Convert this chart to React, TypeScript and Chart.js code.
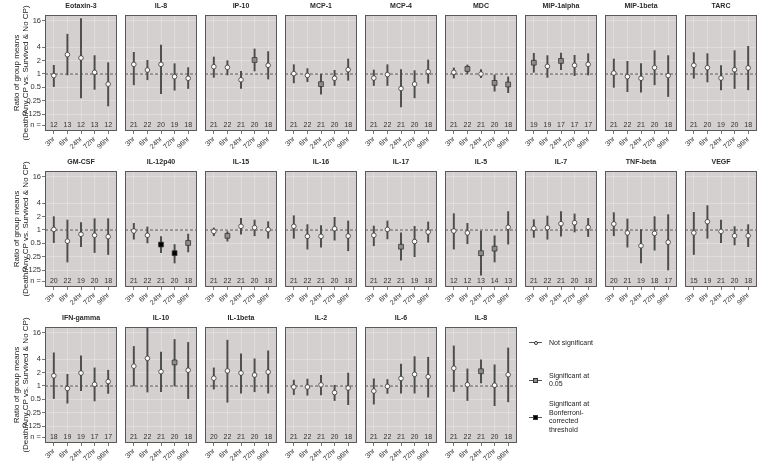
import React, { useEffect, useRef } from "react";
import { Chart, registerables } from "chart.js";
Chart.register(...registerables);

const FONT = "'Liberation Sans', Arial, sans-serif";
Chart.defaults.font.family = FONT;

const TIMES = ["3hr", "6hr", "24hr", "72hr", "96hr"];
const Y_TICKS = [16, 4, 2, 1, 0.5, 0.25, 0.125];
const N_ROW = 0.0707;
const Y_MIN = 0.0518;
const Y_MAX = 21.4;
const Y_TITLE = ["Ratio of group means", "(Death/Any CP vs. Survived & No CP)"];

const PANELS = [
  "Eotaxin-3", "IL-8", "IP-10", "MCP-1", "MCP-4", "MDC", "MIP-1alpha", "MIP-1beta", "TARC",
  "GM-CSF", "IL-12p40", "IL-15", "IL-16", "IL-17", "IL-5", "IL-7", "TNF-beta", "VEGF",
  "IFN-gamma", "IL-10", "IL-1beta", "IL-2", "IL-6", "IL-8",
];

const ESTIMATE = [
  [0.92, 2.73, 2.3, 1.09, 0.59],
  [1.65, 1.23, 1.65, 0.87, 0.8],
  [1.46, 1.41, 0.74, 2.07, 1.57],
  [1.02, 0.93, 0.59, 0.8, 1.25],
  [0.81, 0.97, 0.47, 0.59, 1.13],
  [1.09, 1.3, 1.0, 0.63, 0.58],
  [1.8, 1.49, 1.97, 1.57, 1.65],
  [1.05, 0.87, 0.8, 1.39, 0.92],
  [1.57, 1.39, 0.81, 1.25, 1.37],
  [1.03, 0.56, 0.8, 0.76, 0.71],
  [0.95, 0.76, 0.47, 0.3, 0.51],
  [0.93, 0.74, 1.21, 1.13, 1.02],
  [1.21, 0.72, 0.72, 1.07, 0.73],
  [0.76, 1.03, 0.42, 0.55, 0.9],
  [0.95, 0.86, 0.3, 0.38, 1.15],
  [1.09, 1.13, 1.39, 1.46, 1.15],
  [1.37, 0.86, 0.44, 0.84, 0.53],
  [0.86, 1.54, 0.93, 0.74, 0.74],
  [1.7, 0.88, 1.96, 1.09, 1.26],
  [2.8, 4.2, 2.1, 3.4, 2.27],
  [1.5, 2.19, 1.96, 1.77, 2.07],
  [0.95, 0.95, 1.06, 0.71, 0.9],
  [0.77, 0.98, 1.48, 1.83, 1.62],
  [2.52, 1.07, 2.15, 1.04, 1.8],
];

const LOWER = [
  [0.52, 0.95, 0.29, 0.45, 0.19],
  [0.57, 0.74, 0.36, 0.43, 0.47],
  [0.84, 0.95, 0.47, 1.17, 0.77],
  [0.63, 0.67, 0.35, 0.55, 0.72],
  [0.55, 0.55, 0.18, 0.29, 0.62],
  [0.81, 1.02, 0.83, 0.41, 0.38],
  [1.09, 0.84, 1.25, 0.92, 0.95],
  [0.5, 0.4, 0.39, 0.57, 0.31],
  [0.8, 0.66, 0.44, 0.47, 0.44],
  [0.52, 0.19, 0.42, 0.31, 0.28],
  [0.62, 0.51, 0.31, 0.18, 0.32],
  [0.74, 0.56, 0.8, 0.74, 0.65],
  [0.65, 0.37, 0.41, 0.59, 0.34],
  [0.44, 0.63, 0.21, 0.25, 0.53],
  [0.37, 0.49, 0.096, 0.19, 0.48],
  [0.68, 0.62, 0.73, 0.9, 0.71],
  [0.74, 0.41, 0.18, 0.35, 0.125],
  [0.28, 0.65, 0.52, 0.46, 0.42],
  [0.52, 0.41, 0.78, 0.46, 0.68],
  [1.0, 0.73, 0.74, 1.0, 0.52],
  [0.85, 0.43, 0.69, 0.74, 0.69],
  [0.64, 0.62, 0.63, 0.47, 0.38],
  [0.39, 0.68, 0.69, 0.69, 0.56],
  [0.75, 0.47, 1.17, 0.36, 0.44],
];

const UPPER = [
  [1.57, 7.9, 17.8, 2.6, 1.8],
  [3.08, 2.03, 4.5, 1.71, 1.39],
  [2.42, 2.0, 1.15, 3.67, 3.2],
  [1.62, 1.32, 0.98, 1.21, 2.18],
  [1.23, 1.62, 1.25, 1.19, 2.07],
  [1.37, 1.6, 1.25, 0.95, 0.86],
  [2.93, 2.6, 2.98, 2.64, 2.88],
  [2.18, 1.93, 1.71, 3.36, 2.6],
  [3.03, 2.88, 1.54, 3.36, 4.2],
  [2.0, 1.68, 1.46, 1.8, 1.8],
  [1.41, 1.17, 0.71, 0.47, 0.81],
  [1.11, 0.92, 1.83, 1.68, 1.54],
  [2.1, 1.32, 1.25, 1.93, 1.6],
  [1.23, 1.6, 0.86, 1.21, 1.52],
  [2.34, 1.41, 0.95, 0.74, 2.6],
  [1.71, 2.07, 2.6, 2.3, 1.83],
  [2.46, 1.77, 1.02, 2.0, 2.22],
  [2.5, 3.54, 1.68, 1.19, 1.32],
  [5.6, 1.83, 4.8, 2.56, 2.27],
  [7.8, 30, 5.8, 11.2, 9.6],
  [2.56, 10.8, 5.3, 4.1, 6.2],
  [1.36, 1.43, 1.73, 1.04, 1.96],
  [1.45, 1.4, 3.1, 4.6, 4.45],
  [8.0, 2.43, 3.9, 3.0, 7.2],
];

// 0 = not significant, 1 = significant at 0.05, 2 = Bonferroni-corrected
const SIGNIF = [
  [0, 0, 0, 0, 0],
  [0, 0, 0, 0, 0],
  [0, 0, 0, 1, 0],
  [0, 0, 1, 0, 0],
  [0, 0, 0, 0, 0],
  [0, 1, 0, 1, 1],
  [1, 0, 1, 0, 0],
  [0, 0, 0, 0, 0],
  [0, 0, 0, 0, 0],
  [0, 0, 0, 0, 0],
  [0, 0, 2, 2, 1],
  [0, 1, 0, 0, 0],
  [0, 0, 0, 0, 0],
  [0, 0, 1, 0, 0],
  [0, 0, 1, 1, 0],
  [0, 0, 0, 0, 0],
  [0, 0, 0, 0, 0],
  [0, 0, 0, 0, 0],
  [0, 0, 0, 0, 0],
  [0, 0, 0, 1, 0],
  [0, 0, 0, 0, 0],
  [0, 0, 0, 0, 0],
  [0, 0, 0, 0, 0],
  [0, 0, 1, 0, 0],
];

const NCOUNT = [
  [12, 13, 12, 13, 12],
  [21, 22, 20, 19, 18],
  [21, 22, 21, 20, 18],
  [21, 22, 21, 20, 18],
  [21, 22, 21, 20, 18],
  [21, 22, 21, 20, 18],
  [19, 19, 17, 17, 17],
  [21, 22, 21, 20, 18],
  [21, 20, 19, 20, 18],
  [20, 22, 19, 20, 18],
  [21, 22, 21, 20, 18],
  [21, 22, 21, 20, 18],
  [21, 22, 21, 20, 18],
  [21, 22, 21, 19, 18],
  [12, 12, 13, 14, 13],
  [21, 22, 21, 20, 18],
  [20, 21, 19, 18, 17],
  [15, 19, 21, 20, 18],
  [18, 19, 19, 17, 17],
  [21, 22, 21, 20, 18],
  [20, 22, 21, 20, 18],
  [21, 22, 21, 20, 18],
  [21, 22, 21, 20, 18],
  [21, 22, 21, 20, 18],
];

const LEGEND = [
  { sig: 0, lines: ["Not significant"] },
  { sig: 1, lines: ["Significant at", "0.05"] },
  { sig: 2, lines: ["Significant at", "Bonferroni-", "corrected", "threshold"] },
];

const PANEL_W = 72;
const PANEL_H = 116;
const COL_X0 = 45;
const COL_STEP = 80;
const ROW_TOPS = [15, 171, 327];
const PAD_T = 16;
const PAD_R = 8;
const PAD_B = 28;

const FILL = ["#ffffff", "#8e8e8e", "#000000"];
const RADIUS = [2.3, 3.4, 3.4];

function Panel({ idx }: { idx: number }) {
  const ref = useRef<HTMLCanvasElement>(null);
  const row = Math.floor(idx / 9);
  const col = idx % 9;
  const padL = col === 0 ? COL_X0 : 40;
  const left = COL_X0 + COL_STEP * col - padL;
  const top = ROW_TOPS[row] - PAD_T;
  const width = padL + PANEL_W + PAD_R;
  const height = PAD_T + PANEL_H + PAD_B;

  useEffect(() => {
    const plugin = {
      id: "panelDeco",
      beforeDraw(chart: any) {
        const { ctx, chartArea: a } = chart;
        ctx.save();
        ctx.fillStyle = "#d4d0d0";
        ctx.fillRect(a.left, a.top, a.right - a.left, a.bottom - a.top);
        ctx.restore();
      },
      beforeDatasetsDraw(chart: any) {
        const { ctx, chartArea: a } = chart;
        const y = chart.scales.y.getPixelForValue(1);
        ctx.save();
        ctx.strokeStyle = "#333";
        ctx.lineWidth = 0.8;
        ctx.setLineDash([3, 2]);
        ctx.beginPath();
        ctx.moveTo(a.left, y);
        ctx.lineTo(a.right, y);
        ctx.stroke();
        ctx.restore();
      },
      afterDraw(chart: any) {
        const { ctx, chartArea: a } = chart;
        ctx.save();
        ctx.strokeStyle = "#5a5a5a";
        ctx.lineWidth = 1;
        ctx.strokeRect(a.left + 0.5, a.top + 0.5, a.right - a.left - 1, a.bottom - a.top - 1);
        ctx.fillStyle = "#2a2a2a";
        ctx.font = `bold 7px ${FONT}`;
        ctx.textAlign = "center";
        ctx.textBaseline = "middle";
        ctx.fillText(PANELS[idx], (a.left + a.right) / 2, a.top - 8.5);
        ctx.font = `7px ${FONT}`;
        ctx.fillStyle = "#333";
        const ny = chart.scales.y.getPixelForValue(N_ROW);
        NCOUNT[idx].forEach((n, i) => {
          ctx.fillText(String(n), chart.scales.x.getPixelForValue(i), ny);
        });
        ctx.restore();
      },
    };

    const sig = SIGNIF[idx];
    const chart = new Chart(ref.current as HTMLCanvasElement, {
      type: "scatter",
      data: {
        datasets: [
          {
            type: "bar",
            data: TIMES.map((_, i) => ({ x: i, y: [LOWER[idx][i], UPPER[idx][i]] })) as any,
            backgroundColor: "#4d4d4d",
            borderWidth: 0,
            barThickness: 1.3,
            grouped: false,
            order: 2,
          } as any,
          {
            type: "scatter",
            data: TIMES.map((_, i) => ({ x: i, y: ESTIMATE[idx][i] })),
            pointStyle: sig.map((s) => (s === 0 ? "circle" : "rect")) as any,
            pointRadius: sig.map((s) => RADIUS[s]),
            pointBackgroundColor: sig.map((s) => FILL[s]),
            pointBorderColor: "#333",
            pointBorderWidth: 0.8,
            order: 1,
          } as any,
        ],
      },
      options: {
        animation: false,
        responsive: false,
        devicePixelRatio: 1,
        events: [],
        layout: { padding: { top: PAD_T, right: PAD_R, left: 0, bottom: 0 } },
        plugins: { legend: { display: false }, tooltip: { enabled: false }, title: { display: false } },
        scales: {
          x: {
            type: "linear",
            min: -0.65,
            max: 4.65,
            offset: false,
            afterBuildTicks: (s: any) => {
              s.ticks = TIMES.map((_, i) => ({ value: i }));
            },
            afterFit: (s: any) => {
              s.height = PAD_B;
            },
            ticks: {
              callback: (v: any) => TIMES[v],
              minRotation: 45,
              maxRotation: 45,
              autoSkip: false,
              font: { size: 7 },
              color: "#333",
              padding: 1,
            },
            grid: {
              offset: false,
              color: "rgba(255,255,255,0.45)",
              lineWidth: 0.6,
              tickColor: "#555",
              tickLength: 3,
              tickWidth: 0.8,
            },
            border: { display: false },
          },
          y: {
            type: "logarithmic",
            min: Y_MIN,
            max: Y_MAX,
            beginAtZero: false,
            afterBuildTicks: (s: any) => {
              s.ticks = [...Y_TICKS, N_ROW].map((v) => ({ value: v }));
            },
            afterFit: (s: any) => {
              s.width = padL;
            },
            ticks: {
              display: col === 0,
              callback: (v: any) => (v === N_ROW ? "n =" : String(v)),
              font: { size: 7.5 },
              color: "#333",
              padding: 1,
            },
            grid: {
              color: (c: any) =>
                c.tick && c.tick.value === N_ROW ? "rgba(0,0,0,0)" : "rgba(255,255,255,0.45)",
              lineWidth: 0.6,
              drawTicks: col === 0,
              tickColor: "#555",
              tickLength: 3,
              tickWidth: 0.8,
            },
            border: { display: false },
            title: {
              display: col === 0,
              text: Y_TITLE,
              font: { size: 8, lineHeight: 1.12 },
              color: "#222",
              padding: { top: 12, bottom: 0 },
            },
          },
        },
      } as any,
      plugins: [plugin],
    });
    return () => chart.destroy();
  }, [idx]);

  return (
    <canvas
      ref={ref}
      width={width}
      height={height}
      style={{ position: "absolute", left, top, width, height }}
    />
  );
}

function LegendSymbol({ sig }: { sig: number }) {
  const size = sig === 0 ? 4 : 5;
  return (
    <div style={{ position: "relative", width: 13, height: 8, flex: "0 0 13px" }}>
      <div style={{ position: "absolute", left: 0, right: 0, top: 3.5, height: 1, background: "#555" }} />
      <div
        style={{
          position: "absolute",
          left: 6.5 - size / 2,
          top: 4 - size / 2,
          width: size - 1.6,
          height: size - 1.6,
          border: "0.8px solid #333",
          borderRadius: sig === 0 ? "50%" : 0,
          background: FILL[sig],
        }}
      />
    </div>
  );
}

function Legend() {
  const centers = [343, 380.5, 417.5];
  return (
    <>
      {LEGEND.map((item, k) => {
        const h = item.lines.length * 8.6;
        return (
          <div
            key={k}
            style={{
              position: "absolute",
              left: 529,
              top: centers[k] - h / 2,
              height: h,
              display: "flex",
              alignItems: "center",
              fontFamily: FONT,
              fontSize: 7,
              lineHeight: "8.6px",
              color: "#222",
            }}
          >
            <LegendSymbol sig={item.sig} />
            <div style={{ marginLeft: 7 }}>
              {item.lines.map((l, j) => (
                <div key={j}>{l}</div>
              ))}
            </div>
          </div>
        );
      })}
    </>
  );
}

export default function App() {
  return (
    <div style={{ position: "absolute", left: 0, top: 0, width: 760, height: 463, background: "#fff" }}>
      {PANELS.map((_, i) => (
        <Panel key={i} idx={i} />
      ))}
      <Legend />
    </div>
  );
}
